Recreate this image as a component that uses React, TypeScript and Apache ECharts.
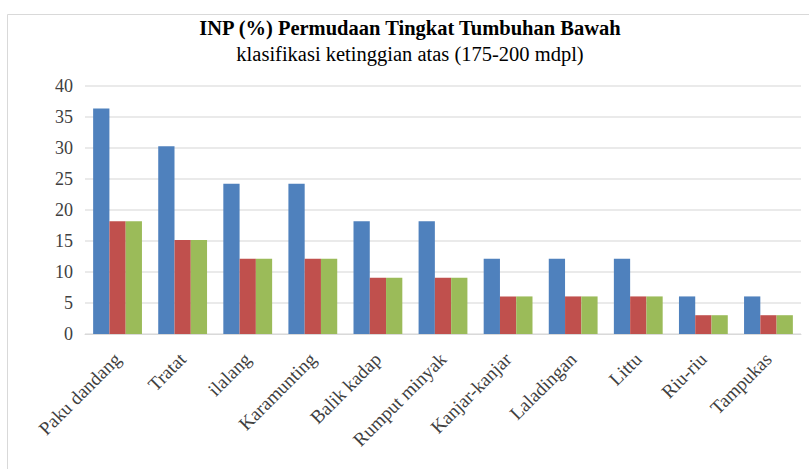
import React, { useEffect, useRef } from "react";
import * as echarts from "echarts";

const categories = [
  "Paku dandang",
  "Tratat",
  "ilalang",
  "Karamunting",
  "Balik kadap",
  "Rumput minyak",
  "Kanjar-kanjar",
  "Laladingan",
  "Littu",
  "Riu-riu",
  "Tampukas",
];
const seriesBlue = [36.36, 30.3, 24.24, 24.24, 18.18, 18.18, 12.12, 12.12, 12.12, 6.06, 6.06];
const seriesRed = [18.18, 15.15, 12.12, 12.12, 9.09, 9.09, 6.06, 6.06, 6.06, 3.03, 3.03];
const seriesGreen = [18.18, 15.15, 12.12, 12.12, 9.09, 9.09, 6.06, 6.06, 6.06, 3.03, 3.03];
const yTicks = { min: 0, max: 40, interval: 5 };

const FONT = "Liberation Serif";

export default function App() {
  const ref = useRef<HTMLDivElement>(null);
  useEffect(() => {
    if (!ref.current) return;
    const chart = echarts.init(ref.current, undefined, { renderer: "svg" });
    chart.setOption({
      animation: false,
      backgroundColor: "#ffffff",
      title: {
        text: "INP (%) Permudaan Tingkat Tumbuhan Bawah",
        subtext: "klasifikasi ketinggian atas (175-200 mdpl)",
        left: 405,
        textAlign: "center",
        top: 12,
        itemGap: 5,
        textStyle: { fontFamily: FONT, fontWeight: "bold", fontSize: 20.5, color: "#000000" },
        subtextStyle: { fontFamily: FONT, fontSize: 20.5, color: "#000000" },
      },
      graphic: [
        {
          type: "rect",
          shape: { x: 7.5, y: 14.5, width: 900, height: 600 },
          style: { fill: "none", stroke: "#d9d9d9", lineWidth: 1 },
          silent: true,
        },
      ],
      grid: { left: 85, right: 8, top: 86, bottom: 135, containLabel: false },
      xAxis: {
        type: "category",
        data: categories,
        axisLine: { lineStyle: { color: "#d9d9d9", width: 1 } },
        axisTick: { show: false },
        axisLabel: {
          rotate: 45,
          interval: 0,
          margin: 22,
          fontFamily: FONT,
          fontSize: 19,
          color: "#404040",
        },
      },
      yAxis: {
        type: "value",
        min: yTicks.min,
        max: yTicks.max,
        interval: yTicks.interval,
        axisLine: { show: false },
        axisTick: { show: false },
        splitLine: { lineStyle: { color: "#e3e3e3", width: 1.5 } },
        axisLabel: { fontFamily: FONT, fontSize: 18, color: "#404040", margin: 12 },
      },
      series: [
        { type: "bar", data: seriesBlue, barGap: "0%", barCategoryGap: "25%", itemStyle: { color: "#4F81BD" } },
        { type: "bar", data: seriesRed, barGap: "0%", barCategoryGap: "25%", itemStyle: { color: "#C0504D" } },
        { type: "bar", data: seriesGreen, barGap: "0%", barCategoryGap: "25%", itemStyle: { color: "#9BBB59" } },
      ],
    });
    return () => chart.dispose();
  }, []);
  return <div ref={ref} style={{ width: 809, height: 469, position: "absolute", left: 0, top: 0 }} />;
}
